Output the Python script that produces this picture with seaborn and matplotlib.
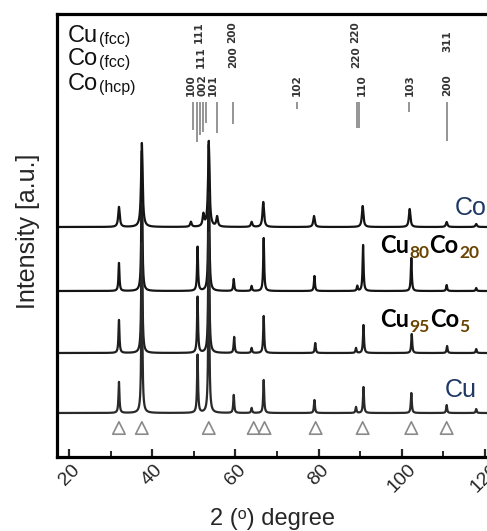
import numpy as np
import pandas as pd
import matplotlib
matplotlib.use("Agg")
import matplotlib.pyplot as plt
import seaborn as sns

# ---------------- data ----------------
samples = ["Co", "Cu80Co20", "Cu95Co5", "Cu"]
baselines = [230, 166, 104, 44]          # vertical offset of each pattern (a.u.)

co_peaks = [32.0, 37.5, 49.3, 52.3, 53.6, 55.6, 63.9, 66.7, 78.9, 90.6, 101.9, 110.8, 117.9]
co_heights = [20, 84, 5, 12, 82, 10, 5, 25, 11, 21, 18, 5, 3]

cu80_peaks = [32.0, 37.5, 50.9, 53.6, 59.6, 63.9, 66.8, 79.0, 89.3, 90.7, 102.3, 110.8, 117.9]
cu80_heights = [28, 140, 44, 150, 12, 5, 53, 15, 5, 46, 33, 6, 3]

cu95_peaks = [32.0, 37.5, 50.9, 53.6, 59.7, 63.9, 66.8, 79.2, 89.0, 90.8, 102.4, 110.9, 117.9]
cu95_heights = [33, 150, 56, 160, 16, 5, 37, 10, 5, 28, 19, 7, 4]

cu_peaks = [32.0, 37.5, 50.9, 53.6, 59.6, 63.9, 66.8, 79.0, 89.0, 90.8, 102.3, 110.8, 117.9]
cu_heights = [31, 170, 58, 180, 18, 5, 33, 13, 6, 26, 20, 8, 4]

peak_widths = [0.22, 0.14, 0.14, 0.14]   # half width of each pattern's peaks (deg)

substrate_peaks = [32.0, 37.5, 53.6, 64.4, 67.0, 79.3, 90.6, 102.3, 110.8]

# reference patterns: hkl labels and their 2theta
cu_fcc_hkl = ["111", "200", "220", "311"]
cu_fcc_pos = [51.2, 59.2, 88.7, 110.85]
co_fcc_hkl = ["111", "200", "220"]
co_fcc_pos = [51.7, 59.4, 89.0]
co_hcp_hkl = ["100", "002", "101", "102", "110", "103", "200"]
co_hcp_pos = [49.3, 52.2, 54.6, 74.8, 90.4, 101.9, 110.85]

stick_pos = [49.8, 50.75, 51.5, 52.2, 53.0, 55.6, 59.4, 74.8, 89.3, 89.7, 101.8, 110.85]
stick_len = [28, 40, 33, 30, 21, 31, 22, 7, 26, 26, 10, 39]

# ---------------- build long-form table ----------------
tt = np.arange(17.1, 120.5, 0.02)
peak_sets = [(co_peaks, co_heights), (cu80_peaks, cu80_heights),
             (cu95_peaks, cu95_heights), (cu_peaks, cu_heights)]
frames = []
for name, base, (pos, hts), w in zip(samples, baselines, peak_sets, peak_widths):
    y = np.full_like(tt, float(base))
    for p, h in zip(pos, hts):
        y += h * w**2 / ((tt - p) ** 2 + w**2)
    frames.append(pd.DataFrame({"two_theta": tt, "intensity": y, "sample": name}))
df = pd.concat(frames, ignore_index=True)
tri = pd.DataFrame({"two_theta": substrate_peaks, "intensity": [29] * len(substrate_peaks)})

# ---------------- plot ----------------
sns.set_theme(style="white")
plt.rcParams["font.family"] = ["Liberation Sans", "DejaVu Sans"]

fig = plt.figure(figsize=(4.87, 5.31), dpi=100)
ax = fig.add_axes([57 / 487, 74 / 531, 430 / 487, 443 / 531])

palette = {"Co": "#141414", "Cu80Co20": "#141414", "Cu95Co5": "#1e1e1e", "Cu": "#2a2a2a"}
sns.lineplot(data=df, x="two_theta", y="intensity", hue="sample", palette=palette,
             estimator=None, legend=False, linewidth=1.6, ax=ax)
sns.scatterplot(data=tri, x="two_theta", y="intensity", marker="^", s=80,
                facecolor="none", edgecolor="#8a8a8a", linewidth=1.2, ax=ax)

ax.set_xlim(17.1, 120.5)
ax.set_ylim(0, 443)
ax.set_yticks([])
ax.set_xticks([20, 40, 60, 80, 100, 120])
ax.set_xticks([30, 50, 70, 90, 110], minor=True)
ax.tick_params(axis="x", which="major", direction="in", length=6, width=1.6,
               labelsize=14, pad=3, bottom=True)
ax.tick_params(axis="x", which="minor", direction="in", length=4, width=1.4, bottom=True)
plt.setp(ax.get_xticklabels(), rotation=45, ha="center")

for side in ["top", "left", "bottom"]:
    ax.spines[side].set_linewidth(2.3)
    ax.spines[side].set_color("black")
ax.spines["right"].set_visible(False)

ax.set_xlabel("2 (ᵒ) degree", fontsize=17)
ax.xaxis.set_label_coords(0.5, -0.14)
ax.xaxis.label.set_va("center")
ax.set_ylabel("Intensity [a.u.]", fontsize=18)
ax.yaxis.set_label_coords(-0.067, 0.51)
ax.yaxis.label.set_va("center")

# reference sticks
ax.vlines(stick_pos, [355 - l for l in stick_len], 355, color="#8c8c8c", linewidth=1.3)

# hkl labels
hkl_kw = dict(rotation=90, ha="center", va="center", fontsize=7.5,
              fontweight="bold", color="#333333", family="DejaVu Sans")
for lab, p in zip(cu_fcc_hkl, cu_fcc_pos):
    ax.text(p, 457 - (41 if lab == "311" else 32), lab, **hkl_kw)
for lab, p in zip(co_fcc_hkl, co_fcc_pos):
    ax.text(p, 457 - 57, lab, **hkl_kw)
for lab, p in zip(co_hcp_hkl, co_hcp_pos):
    ax.text(p, 457 - 85, lab, **hkl_kw)

# phase row labels
def phase_label(ytop_px, big, small):
    t = ax.text(11 / 430, (457 - ytop_px) / 443, big, transform=ax.transAxes,
                fontsize=17, va="baseline", ha="left", color="#111111")
    ax.annotate(small, xy=(1, 0), xycoords=t, xytext=(0.3, 0), textcoords="offset points",
                fontsize=11.5, va="bottom", ha="left", color="#111111")

phase_label(42, "Cu", "(fcc)")
phase_label(65, "Co", "(fcc)")
phase_label(90, "Co", "(hcp)")

# sample labels
ax.text(120.35, 457 - 215, "Co", fontsize=18, ha="right", va="baseline", color="#1f3864")
ax.text(118.1, 457 - 397, "Cu", fontsize=18, ha="right", va="baseline", color="#1f3864")

def formula_label(x, y, parts):
    bold = dict(fontsize=17, fontweight="bold", family=["Lato", "DejaVu Sans"], color="black")
    sub = dict(fontsize=12.5, fontweight="bold", family=["Lato", "DejaVu Sans"], color="#6b4300")
    first = ax.text(x, y, parts[0], va="baseline", ha="left", **bold)
    prev = first
    for i, s in enumerate(parts[1:]):
        if i % 2 == 0:
            prev = ax.annotate(s, xy=(1, 0), xycoords=(prev, first), xytext=(0.3, -3),
                               textcoords="offset points", va="bottom", ha="left", **sub)
        else:
            prev = ax.annotate(s, xy=(1, 0), xycoords=(prev, first), xytext=(0.3, 0),
                               textcoords="offset points", va="bottom", ha="left", **bold)

formula_label(94.7, 457 - 253, ["Cu", "80", "Co", "20"])
formula_label(94.7, 457 - 327, ["Cu", "95", "Co", "5"])

fig.savefig("out.png", dpi=100)
